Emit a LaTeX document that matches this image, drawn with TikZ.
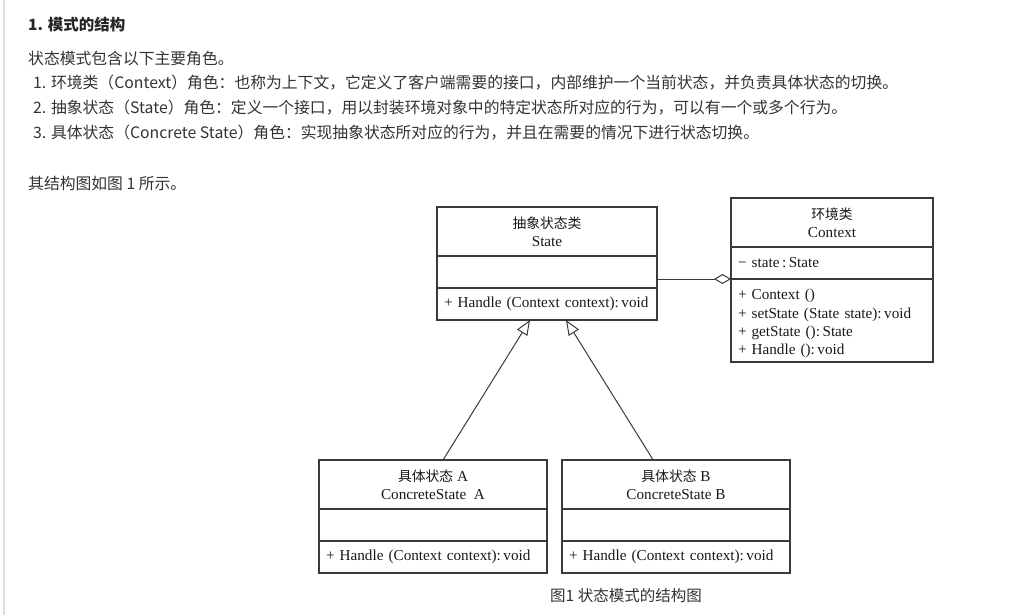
\documentclass[tikz,border=0pt]{standalone}
\usepackage{fontspec}
\setmainfont{Liberation Serif}
\newfontfamily\cjk{Noto Sans CJK SC}
\usetikzlibrary{arrows.meta,calc}
\definecolor{txt}{HTML}{333333}
\definecolor{boxline}{HTML}{3A3A3A}
\definecolor{rulegray}{HTML}{DDDDDD}
\newcommand{\zh}[1]{{\cjk\fontsize{13.8}{18.3}\selectfont #1}}
\tikzset{
	para/.style={anchor=west,inner sep=0pt,text=txt,font=\cjk\fontsize{15.8}{18}\selectfont},
	part/.style={draw=boxline,line width=1.2pt,anchor=north west,inner sep=0pt,outer sep=0pt,text=black!90,font=\fontsize{15.2}{18.3}\selectfont},
	title/.style 2 args={part,minimum width=#1,minimum height=#2,align=center},
	members/.style 2 args={part,text width=#1,minimum height=#2,inner xsep=7pt,align=left},
	gen/.style={draw=boxline,line width=1pt,-{Triangle[open,length=15pt,width=12pt]}},
	agg/.style={draw=boxline,line width=1pt,-{Diamond[open,length=17pt,width=10pt]}}
}
\begin{document}
\begin{tikzpicture}[x=1pt,y=-1pt]
	\useasboundingbox (0,0) rectangle (1022,615);
	\draw[rulegray,line width=1.5pt] (4,0) -- (4,615);

	% text above the figure
	\node[para,font=\cjk\bfseries\fontsize{15.5}{18}\selectfont,text=black!85] (heading) at (28,25) {1. 模式的结构};
	\node[para] (intro) at (28,59) {状态模式包含以下主要角色。};
	\node[para] (role1) at (33,83) {1. 环境类（Context）角色：也称为上下文，它定义了客户端需要的接口，内部维护一个当前状态，并负责具体状态的切换。};
	\node[para] (role2) at (33,108) {2. 抽象状态（State）角色：定义一个接口，用以封装环境对象中的特定状态所对应的行为，可以有一个或多个行为。};
	\node[para] (role3) at (33,133) {3. 具体状态（Concrete State）角色：实现抽象状态所对应的行为，并且在需要的情况下进行状态切换。};
	\node[para] (lead) at (28,183.5) {其结构图如图 1 所示。};

	% abstract state
	\node[title={220pt}{49pt}] (stateName) at (437,207) {\zh{抽象状态类}\\State};
	\node[members={206pt}{32pt}] (stateAttr) at (stateName.south west) {};
	\node[members={206pt}{32pt}] (stateOps) at (stateAttr.south west) {\mbox{+ Handle (Context context):\,void}};

	% context
	\node[title={202pt}{49pt}] (ctxName) at (731,198) {\zh{环境类}\\Context};
	\node[members={188pt}{32pt}] (ctxAttr) at (ctxName.south west) {− state\,:\,State};
	\node[members={188pt}{83pt}] (ctxOps) at (ctxAttr.south west) {\rule{0pt}{17pt}+ Context ()\\+ setState (State state):\,void\\+ getState ():\,State\\+ Handle ():\,void};

	% concrete states
	\node[title={228pt}{49pt}] (aName) at (319,460) {\zh{具体状态} A\\ConcreteState\ \ A};
	\node[members={214pt}{32pt}] (aAttr) at (aName.south west) {};
	\node[members={214pt}{32pt}] (aOps) at (aAttr.south west) {\mbox{+ Handle (Context context):\,void}};

	\node[title={228pt}{49pt}] (bName) at (562,460) {\zh{具体状态} B\\ConcreteState B};
	\node[members={214pt}{32pt}] (bAttr) at (bName.south west) {};
	\node[members={214pt}{32pt}] (bOps) at (bAttr.south west) {\mbox{+ Handle (Context context):\,void}};

	\draw[agg] (ctxOps.north west -| stateAttr.east) -- (ctxOps.north west);
	\draw[gen] ($(aName.north west)!0.544!(aName.north east)$) -- ($(stateOps.south west)!0.423!(stateOps.south east)$);
	\draw[gen] ($(bName.north west)!0.4!(bName.north east)$) -- ($(stateOps.south west)!0.586!(stateOps.south east)$);

	\node[para,anchor=center,font=\cjk\fontsize{15.5}{18}\selectfont] (caption) at (626,596) {图1 状态模式的结构图};
\end{tikzpicture}
\end{document}
